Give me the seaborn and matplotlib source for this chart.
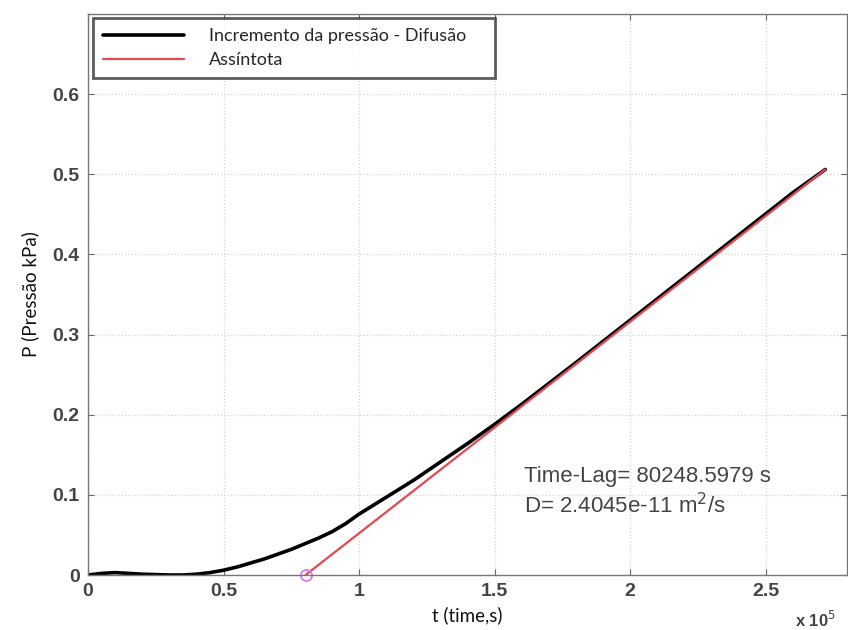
import numpy as np
import matplotlib
matplotlib.use("Agg")
import matplotlib.pyplot as plt
import seaborn as sns

# pressure increment curve (t in s, P in kPa)
t_curve = [0, 5000, 10000, 15000, 20000, 25000, 30000, 35000, 40000, 45000,
           50000, 55000, 60000, 65000, 70000, 75000, 80000, 85000, 90000, 95000,
           100000, 110000, 120000, 130000, 140000, 150000, 160000, 180000,
           200000, 220000, 240000, 260000, 272000]
p_curve = [0, 0.002, 0.003, 0.002, 0.001, 0.0005, 0.0, 0.0, 0.001, 0.003,
           0.006, 0.010, 0.015, 0.020, 0.026, 0.032, 0.039, 0.046, 0.054, 0.064,
           0.076, 0.097, 0.118, 0.141, 0.164, 0.188, 0.213, 0.265,
           0.318, 0.371, 0.424, 0.477, 0.506]

# asymptote from the time lag to the last point
time_lag = 80248.5979
diff_coef = "2.4045e-11"
t_asym = [time_lag, 272000]
p_asym = [0.0, 0.506]

sns.set_theme(style="white")
plt.rcParams['font.family'] = ['Liberation Sans', 'DejaVu Sans']

fig = plt.figure(figsize=(8.48, 6.3), dpi=100)
ax = fig.add_axes([0.1038, 0.0873, 0.8950, 0.8905])

sns.lineplot(x=t_curve, y=p_curve, ax=ax, color='black', linewidth=2.6,
             label='Incremento da pressão - Difusão', sort=False)
sns.lineplot(x=t_asym, y=p_asym, ax=ax, color='#e5484f', linewidth=1.6,
             label='Assíntota', sort=False)
ax.plot([time_lag], [0], marker='o', markersize=8, markerfacecolor='none',
        markeredgecolor='#d77cf0', markeredgewidth=1.3, clip_on=False)

ax.set_xlim(0, 280000)
ax.set_ylim(0, 0.7)
xt = [0, 50000, 100000, 150000, 200000, 250000]
ax.set_xticks(xt)
ax.set_xticklabels(['0', '0.5', '1', '1.5', '2', '2.5'])
ax.set_yticks([0, 0.1, 0.2, 0.3, 0.4, 0.5, 0.6])
ax.set_yticklabels(['0', '0.1', '0.2', '0.3', '0.4', '0.5', '0.6'])
ax.tick_params(axis='both', direction='in', length=4, width=0.8, color='#666',
               labelsize=14, labelcolor='#444', top=True, right=True,
               bottom=True, left=True, pad=6)
for lab in ax.get_xticklabels() + ax.get_yticklabels():
    lab.set_fontweight('bold')
ax.grid(True, color='#d4d4d4', linestyle=':', linewidth=0.9)
for sp in ax.spines.values():
    sp.set_color('#777')
    sp.set_linewidth(1.0)

ax.set_xlabel('t (time,s)', fontsize=13.5, family='Lato', color='#111', labelpad=4)
ax.set_ylabel('P (Pressão kPa)', fontsize=13.5, family='Lato', color='#111', labelpad=10)
fig.text(0.938, 0.005, r'x 10$^5$', fontsize=12, fontweight='bold', color='#444')

ax.text(161000, 0.123, f'Time-Lag= {time_lag} s', fontsize=16,
        color='#444', va='center')
ax.text(161000, 0.086, f'D= {diff_coef} m$^2$/s', fontsize=16,
        color='#444', va='center')

leg = ax.legend(loc='upper left', bbox_to_anchor=(0.006, 0.86, 0.53, 0.133),
                mode='expand', frameon=True, fancybox=False, borderaxespad=0,
                handlelength=4.5, handletextpad=1.4, labelspacing=0.45,
                borderpad=0.55, prop={'family': 'Lato', 'size': 13})
leg.get_frame().set_edgecolor('#333')
leg.get_frame().set_linewidth(2.0)

fig.savefig('out.png', dpi=100)
